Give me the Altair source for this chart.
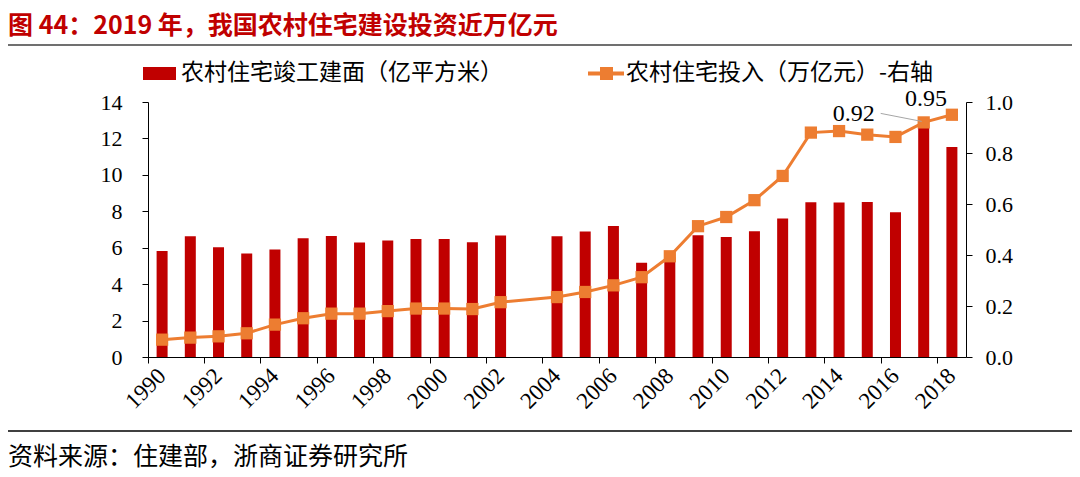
import altair as alt
import pandas as pd

TITLE = "图 44：2019 年，我国农村住宅建设投资近万亿元"
SOURCE = "资料来源：住建部，浙商证券研究所"
BAR_NAME = "农村住宅竣工建面（亿平方米）"
LINE_NAME = "农村住宅投入（万亿元）-右轴"

years = list(range(1990, 2019))
area = [5.82, 6.63, 6.02, 5.68, 5.90, 6.52, 6.65, 6.28, 6.39, 6.48,
        6.48, 6.30, 6.67, None, 6.63, 6.89, 7.19, 5.18, 5.5, 6.68,
        6.59, 6.90, 7.60, 8.50, 8.48, 8.51, 7.95, 13.1, 11.53]
invest = [0.068, 0.076, 0.081, 0.093, 0.127, 0.152, 0.170, 0.170, 0.180, 0.190,
          0.190, 0.188, 0.215, None, 0.235, 0.255, 0.281, 0.313, 0.395, 0.513,
          0.549, 0.615, 0.710, 0.880, 0.886, 0.872, 0.863, 0.920, 0.950]
left_ticks = [0, 2, 4, 6, 8, 10, 12, 14]
right_ticks = [0, 0.2, 0.4, 0.6, 0.8, 1.0]
label_years = list(range(1990, 2019, 2))
ann_years = [2017, 2018]
ann_vals = [0.92, 0.95]
ann_text = ["0.92", "0.95"]

RED = "#C00000"
ORANGE = "#ED7D31"
CJK = "Noto Sans CJK SC"
SERIF = "Liberation Serif"

df = pd.DataFrame({"year": years, "area": area, "invest": invest})
ann = pd.DataFrame({"year": ann_years, "val": ann_vals, "txt": ann_text})

xscale = alt.Scale(domain=years, paddingInner=0, paddingOuter=0)
xaxis = alt.Axis(values=label_years, bandPosition=0, labelOffset=0, labelAngle=-45,
                 labelAlign="right", labelBaseline="middle", tickSize=6,
                 labelPadding=9, labelFontSize=23, title=None)
x_enc = alt.X("year:O", scale=xscale, axis=xaxis)

yl = alt.Y("area:Q", scale=alt.Scale(domain=[0, 14], nice=False),
           axis=alt.Axis(values=left_ticks, title=None, tickSize=6, labelPadding=20))
bars = alt.Chart(df).mark_bar(size=11, color=RED).encode(x=x_enc, y=yl)

yscale_r = alt.Scale(domain=[0, 1], nice=False)
raxis = alt.Axis(values=right_ticks, format=".1f", title=None, orient="right",
                 tickSize=6, labelPadding=13)

line = alt.Chart(df).transform_filter("isValid(datum.invest)").mark_line(
    strokeWidth=3, color=ORANGE,
    point=alt.OverlayMarkDef(shape="square", size=150, filled=True, opacity=1, color=ORANGE),
).encode(x=x_enc, y=alt.Y("invest:Q", scale=yscale_r, axis=raxis))

t1 = alt.Chart(ann).transform_filter("datum.year == 2017").mark_text(
    font=SERIF, fontSize=24, color="black", dx=-70, dy=-8, baseline="middle", align="center"
).encode(x=x_enc, y=alt.Y("val:Q", scale=yscale_r, axis=raxis), text="txt:N")
t2 = alt.Chart(ann).transform_filter("datum.year == 2018").mark_text(
    font=SERIF, fontSize=24, color="black", dx=-26, dy=-16, baseline="middle", align="center"
).encode(x=x_enc, y=alt.Y("val:Q", scale=yscale_r, axis=raxis), text="txt:N")
leader = alt.Chart(ann).transform_filter("datum.year == 2017").mark_rule(
    color="#A6A6A6", strokeWidth=1, xOffset=-43, x2Offset=-2, yOffset=-9, y2Offset=-1
).encode(x=x_enc, x2=alt.X2("year"), y=alt.Y("val:Q", scale=yscale_r, axis=raxis),
         y2=alt.Y2("val"))

right = alt.layer(line, leader, t1, t2)

one = pd.DataFrame({"t": [TITLE], "s": [SOURCE], "b": [BAR_NAME], "l": [LINE_NAME]})
title_txt = alt.Chart(one).mark_text(
    font=CJK, fontSize=25, fontWeight="bold", color=RED, align="left", baseline="middle"
).encode(text="t:N", x=alt.value(-140), y=alt.value(-76))
src_txt = alt.Chart(one).mark_text(
    font=CJK, fontSize=25, color="black", align="left", baseline="middle"
).encode(text="s:N", x=alt.value(-140), y=alt.value(355))
top_rule = alt.Chart(one).mark_rule(color="#404040", strokeWidth=1.5).encode(
    x=alt.value(-140), x2=alt.value(924), y=alt.value(-57))
bot_rule = alt.Chart(one).mark_rule(color="black", strokeWidth=1.5).encode(
    x=alt.value(-140), x2=alt.value(924), y=alt.value(329))

# legend
leg_rect = alt.Chart(one).mark_rect(color=RED).encode(
    x=alt.value(-5), x2=alt.value(28), y=alt.value(-35), y2=alt.value(-22))
leg_btxt = alt.Chart(one).mark_text(
    font=CJK, fontSize=23, color="black", align="left", baseline="middle"
).encode(text="b:N", x=alt.value(33), y=alt.value(-29))
leg_line = alt.Chart(one).mark_rule(color=ORANGE, strokeWidth=4).encode(
    x=alt.value(440), x2=alt.value(476), y=alt.value(-28.5))
leg_sq = alt.Chart(one).mark_square(color=ORANGE, size=169, opacity=1).encode(
    x=alt.value(458.5), y=alt.value(-28.5))
leg_ltxt = alt.Chart(one).mark_text(
    font=CJK, fontSize=23, color="black", align="left", baseline="middle"
).encode(text="l:N", x=alt.value(478), y=alt.value(-29))

chart = alt.layer(bars, right, title_txt, src_txt, top_rule, bot_rule,
                  leg_rect, leg_btxt, leg_line, leg_sq, leg_ltxt).resolve_scale(
    y="independent"
).properties(
    width=818, height=255,
    autosize=alt.AutoSizeParams(type="none"),
    padding={"left": 140, "top": 94, "right": 106, "bottom": 120},
).configure_view(stroke=None).configure_axis(
    labelFont=SERIF, labelFontSize=22, labelColor="black", domainColor="black",
    tickColor="black", grid=False,
)

chart.save("out.html", embed_options={"renderer": "svg", "actions": False})
